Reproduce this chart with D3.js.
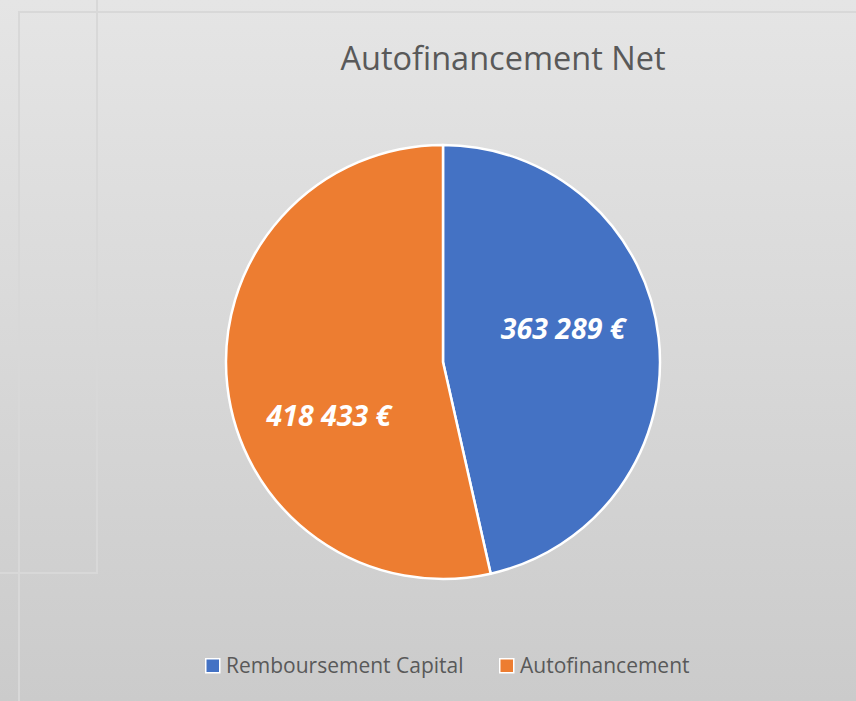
<!DOCTYPE html>
<html>
<head>
<meta charset="utf-8">
<script src="https://cdn.jsdelivr.net/npm/d3@7"></script>
<style>
  html, body { margin: 0; padding: 0; }
  svg { display: block; }
</style>
</head>
<body>
<div id="chart"></div>
<script>
const categories = ['Remboursement Capital', 'Autofinancement'];
const values = [363289, 418433];
const labels = ['363 289 €', '418 433 €'];
const colors = ['#4472c4', '#ed7d31'];

const width = 856, height = 701;
const cx = 443, cy = 362, radius = 217;
const font = '"Open Sans", "Noto Sans", sans-serif';
// nudges from the arc centroid, to follow the spreadsheet's "best fit" placement
const labelNudge = [[-5, -19], [11, 40]];

const svg = d3.select('#chart').append('svg')
  .attr('width', width)
  .attr('height', height);

const grad = svg.append('defs').append('linearGradient')
  .attr('id', 'bg').attr('x1', 0).attr('y1', 0).attr('x2', 0).attr('y2', 1);
grad.append('stop').attr('offset', '0%').attr('stop-color', '#e5e5e5');
grad.append('stop').attr('offset', '100%').attr('stop-color', '#cbcbcb');

svg.append('rect').attr('width', width).attr('height', height).attr('fill', 'url(#bg)');

// faint frame lines in the background
const frame = svg.append('g').attr('stroke', '#d8d8d8').attr('stroke-width', 2).attr('fill', 'none');
frame.append('path').attr('d', `M19,${height} V12 H${width}`);
frame.append('path').attr('d', 'M97,0 V573 H0');

// title
svg.append('text')
  .attr('x', 503).attr('y', 70)
  .attr('text-anchor', 'middle')
  .style('font-family', font)
  .style('font-size', '32.5px')
  .style('fill', '#595959')
  .text('Autofinancement Net');

const data = categories.map((c, i) => ({ name: c, value: values[i], label: labels[i], color: colors[i] }));

const pie = d3.pie().value(d => d.value).sort(null);
const arc = d3.arc().innerRadius(0).outerRadius(radius);
const labelArc = d3.arc().innerRadius(radius * 0.58).outerRadius(radius * 0.58);

const g = svg.append('g').attr('transform', `translate(${cx},${cy})`);

g.selectAll('path')
  .data(pie(data))
  .enter()
  .append('path')
  .attr('d', arc)
  .attr('fill', d => d.data.color)
  .attr('stroke', '#fff')
  .attr('stroke-width', 2.5)
  .attr('stroke-linejoin', 'round');

g.selectAll('text.lbl')
  .data(pie(data))
  .enter()
  .append('text')
  .attr('class', 'lbl')
  .attr('transform', (d, i) => {
    const [x, y] = labelArc.centroid(d);
    return `translate(${x + labelNudge[i][0]},${y + labelNudge[i][1]})`;
  })
  .attr('dy', '0.35em')
  .attr('text-anchor', 'middle')
  .style('font-family', font)
  .style('font-size', '28.5px')
  .style('font-weight', 'bold')
  .style('font-style', 'italic')
  .style('fill', '#fff')
  .text(d => d.data.label);

// legend
const legendX = [205, 499];
const legend = svg.append('g');
data.forEach((d, i) => {
  const item = legend.append('g').attr('transform', `translate(${legendX[i]},658)`);
  item.append('rect')
    .attr('x', 0.75).attr('y', 0.75).attr('width', 14).attr('height', 14)
    .attr('fill', d.color).attr('stroke', '#fff').attr('stroke-width', 1.5);
  item.append('text')
    .attr('x', 21).attr('y', 15)
    .style('font-family', font)
    .style('font-size', '21px')
    .style('fill', '#595959')
    .text(d.name);
});
</script>
</body>
</html>
